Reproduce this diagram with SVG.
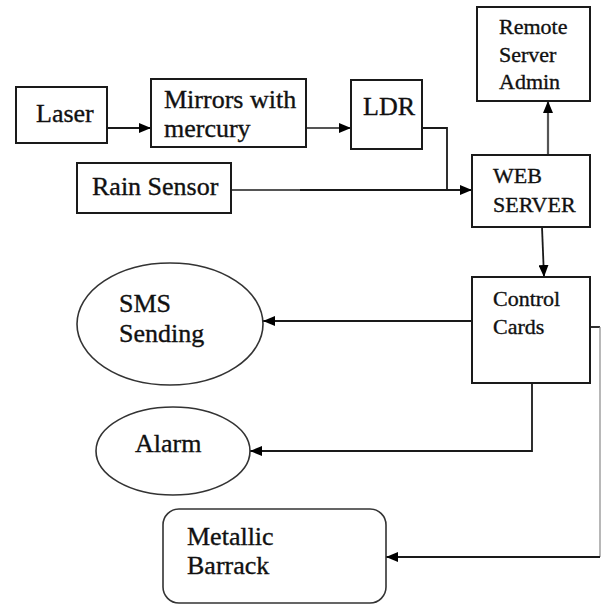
<svg xmlns="http://www.w3.org/2000/svg" width="601" height="605" viewBox="0 0 601 605">
<defs>
<style>
text{font-family:'Liberation Serif','Times New Roman',serif;fill:#111;stroke:#111;stroke-width:0.35}
.big{font-size:26px}
.small{font-size:22px}
.box{fill:#fff;stroke:#1a1a1a;stroke-width:2}
.shape{fill:#fff;stroke:#333;stroke-width:1.6}
.c{fill:none;stroke:#1a1a1a;stroke-width:1.8}
.g{fill:none;stroke:#555;stroke-width:2.2}
</style>
<marker id="ah" viewBox="0 0 12 10" refX="12" refY="5" markerWidth="12" markerHeight="10" markerUnits="userSpaceOnUse" orient="auto">
<path d="M0,0 L12,5 L0,10 Z" fill="#000"/>
</marker>
</defs>
<rect width="601" height="605" fill="#fff"/>
<g id="connectors">
<path class="c" d="M107,128 H151" marker-end="url(#ah)"/>
<path class="g" d="M306,128 H351" marker-end="url(#ah)"/>
<path class="c" d="M422,128 H447 V190"/>
<path class="g" d="M231,190 H300"/>
<path class="c" d="M300,190 H472" marker-end="url(#ah)"/>
<path class="g" d="M548,155 V101" marker-end="url(#ah)"/>
<path class="c" d="M542,227 L544,277" marker-end="url(#ah)"/>
<path class="c" d="M472,321 H263" marker-end="url(#ah)"/>
<path class="c" d="M532,383 V451 H250" marker-end="url(#ah)"/>
<path class="c" d="M590,327 H600"/>
<path fill="none" stroke="#888" stroke-width="1.2" d="M600,327 V557"/>
<path class="c" d="M600,557 H386" marker-end="url(#ah)"/>
</g>
<g id="laser">
<rect class="box" x="16" y="87" width="91" height="56"/>
<text class="big" x="36" y="122">Laser</text>
</g>
<g id="mirrors">
<rect class="box" x="151" y="79" width="155" height="68"/>
<text class="big" x="164" y="108">Mirrors with</text>
<text class="big" x="164" y="137">mercury</text>
</g>
<g id="ldr">
<rect class="box" x="351" y="80" width="71" height="69"/>
<text class="big" x="363" y="115">LDR</text>
</g>
<g id="rain-sensor">
<rect class="box" x="77" y="163" width="154" height="50"/>
<text class="big" x="92" y="195">Rain Sensor</text>
</g>
<g id="remote-server-admin">
<rect class="box" x="477" y="7" width="113" height="94"/>
<text class="small" x="499" y="34">Remote</text>
<text class="small" x="499" y="62">Server</text>
<text class="small" x="499" y="89">Admin</text>
</g>
<g id="web-server">
<rect class="box" x="472" y="155" width="118" height="72"/>
<text class="small" x="493" y="183">WEB</text>
<text class="small" x="493" y="212">SERVER</text>
</g>
<g id="control-cards">
<rect class="box" x="472" y="277" width="118" height="106"/>
<text class="small" x="493" y="306">Control</text>
<text class="small" x="493" y="334">Cards</text>
</g>
<g id="sms-sending">
<ellipse class="shape" cx="170" cy="324" rx="93" ry="61"/>
<text class="big" x="119" y="312">SMS</text>
<text class="big" x="119" y="342">Sending</text>
</g>
<g id="alarm">
<ellipse class="shape" cx="173" cy="451" rx="77" ry="44"/>
<text class="big" x="135" y="452">Alarm</text>
</g>
<g id="metallic-barrack">
<rect class="shape" x="163" y="509" width="223" height="94" rx="16"/>
<text class="big" x="187" y="545">Metallic</text>
<text class="big" x="187" y="574">Barrack</text>
</g>
</svg>
